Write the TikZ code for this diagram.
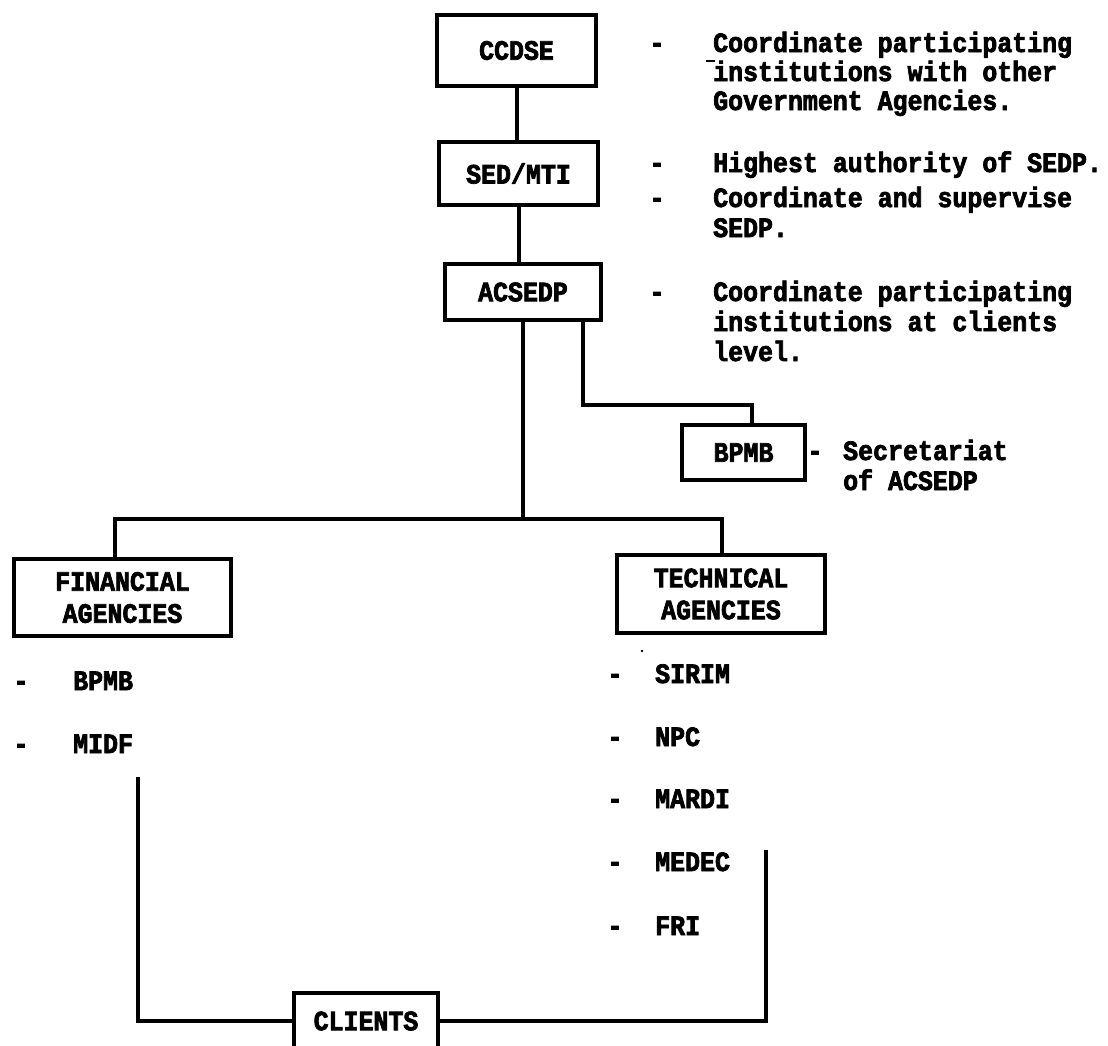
\documentclass[tikz,border=0pt]{standalone}
\usepackage{fontspec}
\setmonofont{Liberation Mono}[FakeStretch=0.89, BoldFeatures={FakeBold=2.6}]
\tikzset{
  txt/.style={font=\fontsize{28}{30}\selectfont\ttfamily\bfseries, inner sep=0pt},
  box/.style={draw, line width=4.5pt, txt, align=center},
  conn/.style={line width=4pt},
  dsh/.style={txt, anchor=base},
  desc/.style={txt, anchor=base west},
}
\begin{document}
\begin{tikzpicture}[x=1pt,y=-1pt]
\useasboundingbox (0,0) rectangle (1108,1045);
\clip (0,0) rectangle (1108,1045);

% boxes
\node[box, minimum width=159pt, minimum height=71pt] (ccdse) at (516.5,50.5) {CCDSE};
\node[box, minimum width=159pt, minimum height=63pt] (sed) at (518.5,173.5) {SED/MTI};
\node[box, minimum width=156pt, minimum height=56pt] (acsedp) at (523,292) {ACSEDP};
\node[box, minimum width=123pt, minimum height=55pt] (bpmb) at (743.5,452.5) {BPMB};
\node[box, minimum width=217pt, minimum height=77pt] (fin) at (122.5,597.5) {FINANCIAL\\[2pt]AGENCIES};
\node[box, minimum width=208pt, minimum height=78pt] (tech) at (721,594) {TECHNICAL\\[2pt]AGENCIES};
\node[box, minimum width=144pt, minimum height=56pt] (clients) at (366,1021) {CLIENTS};

% descriptions
\node[dsh] (d1) at (657,52) {-};
\node[desc] (t1a) at (713,52) {Coordinate participating};
\node[desc] (t1b) at (713,81) {institutions with other};
\node[desc] (t1c) at (713,110) {Government Agencies.};
\draw[line width=2pt] (706,61) -- (715,61);

\node[dsh] (d2) at (657,172) {-};
\node[desc] (t2a) at (713,172) {Highest authority of SEDP.};
\node[dsh] (d3) at (657,207) {-};
\node[desc] (t2b) at (713,207) {Coordinate and supervise};
\node[desc] (t2c) at (713,237) {SEDP.};

\node[dsh] (d4) at (657,301) {-};
\node[desc] (t3a) at (713,301) {Coordinate participating};
\node[desc] (t3b) at (713,331) {institutions at clients};
\node[desc] (t3c) at (713,361) {level.};

\node[dsh] (d5) at (815,460) {-};
\node[desc] (t4a) at (843,460) {Secretariat};
\node[desc] (t4b) at (843,490) {of ACSEDP};

% financial list
\node[dsh] (fd1) at (21,690) {-};
\node[desc] (f1) at (73,690) {BPMB};
\node[dsh] (fd2) at (21,753) {-};
\node[desc] (f2) at (73,753) {MIDF};

% technical list
\node[dsh] (td1) at (615,683) {-};
\node[desc] (k1) at (655,683) {SIRIM};
\node[dsh] (td2) at (615,746) {-};
\node[desc] (k2) at (655,746) {NPC};
\node[dsh] (td3) at (615,808) {-};
\node[desc] (k3) at (655,808) {MARDI};
\node[dsh] (td4) at (615,871) {-};
\node[desc] (k4) at (655,871) {MEDEC};
\node[dsh] (td5) at (615,935) {-};
\node[desc] (k5) at (655,935) {FRI};
\fill (642,651) circle (1.3pt);

% connectors
\coordinate (barL) at (115,519);
\coordinate (barR) at (722,519);
\coordinate (bpA) at (583,405);
\coordinate (lTop) at (138,777);
\coordinate (rTop) at (766,850);

\draw[conn] (ccdse.south) -- (ccdse.south |- sed.north);
\draw[conn] (sed.south) -- (sed.south |- acsedp.north);
\draw[conn] (acsedp.south) -- (acsedp.south |- barL);
\draw[conn] (barL |- fin.north) -- (barL) -- (barR) -- (barR |- tech.north);
\draw[conn] (acsedp.south -| bpA) -- (bpA) -| ([xshift=8pt]bpmb.north);
\draw[conn] (lTop) |- (clients.west);
\draw[conn] (rTop) |- (clients.east);
\end{tikzpicture}
\end{document}
